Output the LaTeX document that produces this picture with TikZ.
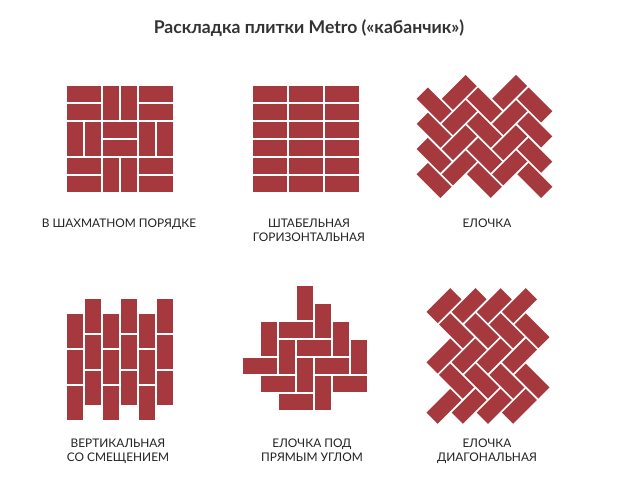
\documentclass[tikz,border=0pt]{standalone}
\usepackage{fontspec}
\setmainfont{Lato}
\usepackage{xcolor}
\usetikzlibrary{positioning}
\definecolor{brick}{RGB}{165,57,61}
\definecolor{inkgray}{RGB}{51,51,51}
\definecolor{capgray}{RGB}{34,34,34}
\tikzset{
  tile/.style={fill=brick},
  heading/.style={font=\bfseries\fontsize{13.2}{15}\selectfont, text=inkgray},
  patname/.style={font=\fontsize{8.9}{10.6}\selectfont, text=capgray, align=center, anchor=north, inner sep=0pt}
}
% straight tiles, 34x16 px
\newcommand{\htile}[2]{\fill[tile] (#1,#2) rectangle ++(34,16);}
\newcommand{\vtile}[2]{\fill[tile] (#1,#2) rectangle ++(16,34);}
% herringbone tiles on a 17.8 px grid (used inside a rotated scope)
\newcommand{\fishV}[2]{\fill[tile] ({(#2-2*(#1))*17.8+1},{(#2+2*(#1))*17.8+1}) rectangle ++(15.8,33.6);}
\newcommand{\fishH}[2]{\fill[tile] ({(#2-2*(#1)-1)*17.8+1},{(#2+2*(#1)+2)*17.8+1}) rectangle ++(33.6,15.8);}

\begin{document}
\begin{tikzpicture}[x=0.75pt,y=-0.75pt]
  \fill[white] (0,0) rectangle (618,501);
  \useasboundingbox (0,0) rectangle (618,501);

  % title
  \node[heading] (title) at (309,28) {Раскладка плитки Metro («кабанчик»)};

  % chess
  \foreach \i/\j in {0/0,2/0,1/1,0/2,2/2} {\htile{66.5+36*\i}{86+36*\j} \htile{66.5+36*\i}{104+36*\j}}
  \foreach \i/\j in {1/0,0/1,2/1,1/2} {\vtile{66.5+36*\i}{86+36*\j} \vtile{84.5+36*\i}{86+36*\j}}

  % stack
  \foreach \i in {0,1,2} \foreach \j in {0,...,5} {\htile{252.5+36*\i}{86+18*\j}}

  % herringbone, vertical zigzag
  \begin{scope}[shift={(465.6,73.5)},rotate=-45]
    \foreach \s in {0,-1} \foreach \t in {0,...,3} {\fishV{\s}{\t}}
    \foreach \s in {0,-1,-2} \foreach \t in {0,...,3} {\fishH{\s}{\t}}
  \end{scope}

  % vertical offset
  \foreach \k in {0,2,4} \foreach \j in {0,1,2} {\vtile{67+18*\k}{314+36*\j}}
  \foreach \k in {1,3,5} \foreach \j in {0,1,2} {\vtile{67+18*\k}{299+36*\j}}

  % herringbone at right angle
  \foreach \a/\b in {3/0,4/1,5/2,6/3,1/2,2/3,3/4,4/5} {\vtile{243+18*\a}{286+18*\b}}
  \foreach \a/\b in {2/2,3/3,4/4,0/4,1/5,5/5,2/6} {\htile{243+18*\a}{286+18*\b}}

  % herringbone, diagonal
  \begin{scope}[shift={(412.5,324.5)},rotate=45]
    \foreach \s in {0,1} \foreach \t in {1,...,4} {\fishV{\s}{\t}}
    \foreach \s in {-1,0,1} \foreach \t in {0,...,3} {\fishH{\s}{\t}}
  \end{scope}

  % captions
  \node[patname] (chess) at (119,218.5) {В ШАХМАТНОМ ПОРЯДКЕ};
  \node[patname] (stack) at (309,218.5) {ШТАБЕЛЬНАЯ\\ГОРИЗОНТАЛЬНАЯ};
  \node[patname] (fish) at (487,218.5) {ЕЛОЧКА};
  \node[patname] (offset) at (118,438.5) {ВЕРТИКАЛЬНАЯ\\СО СМЕЩЕНИЕМ};
  \node[patname] (rightfish) at (312,438.5) {ЕЛОЧКА ПОД\\ПРЯМЫМ УГЛОМ};
  \node[patname] (diagfish) at (487,438.5) {ЕЛОЧКА\\ДИАГОНАЛЬНАЯ};
\end{tikzpicture}
\end{document}
